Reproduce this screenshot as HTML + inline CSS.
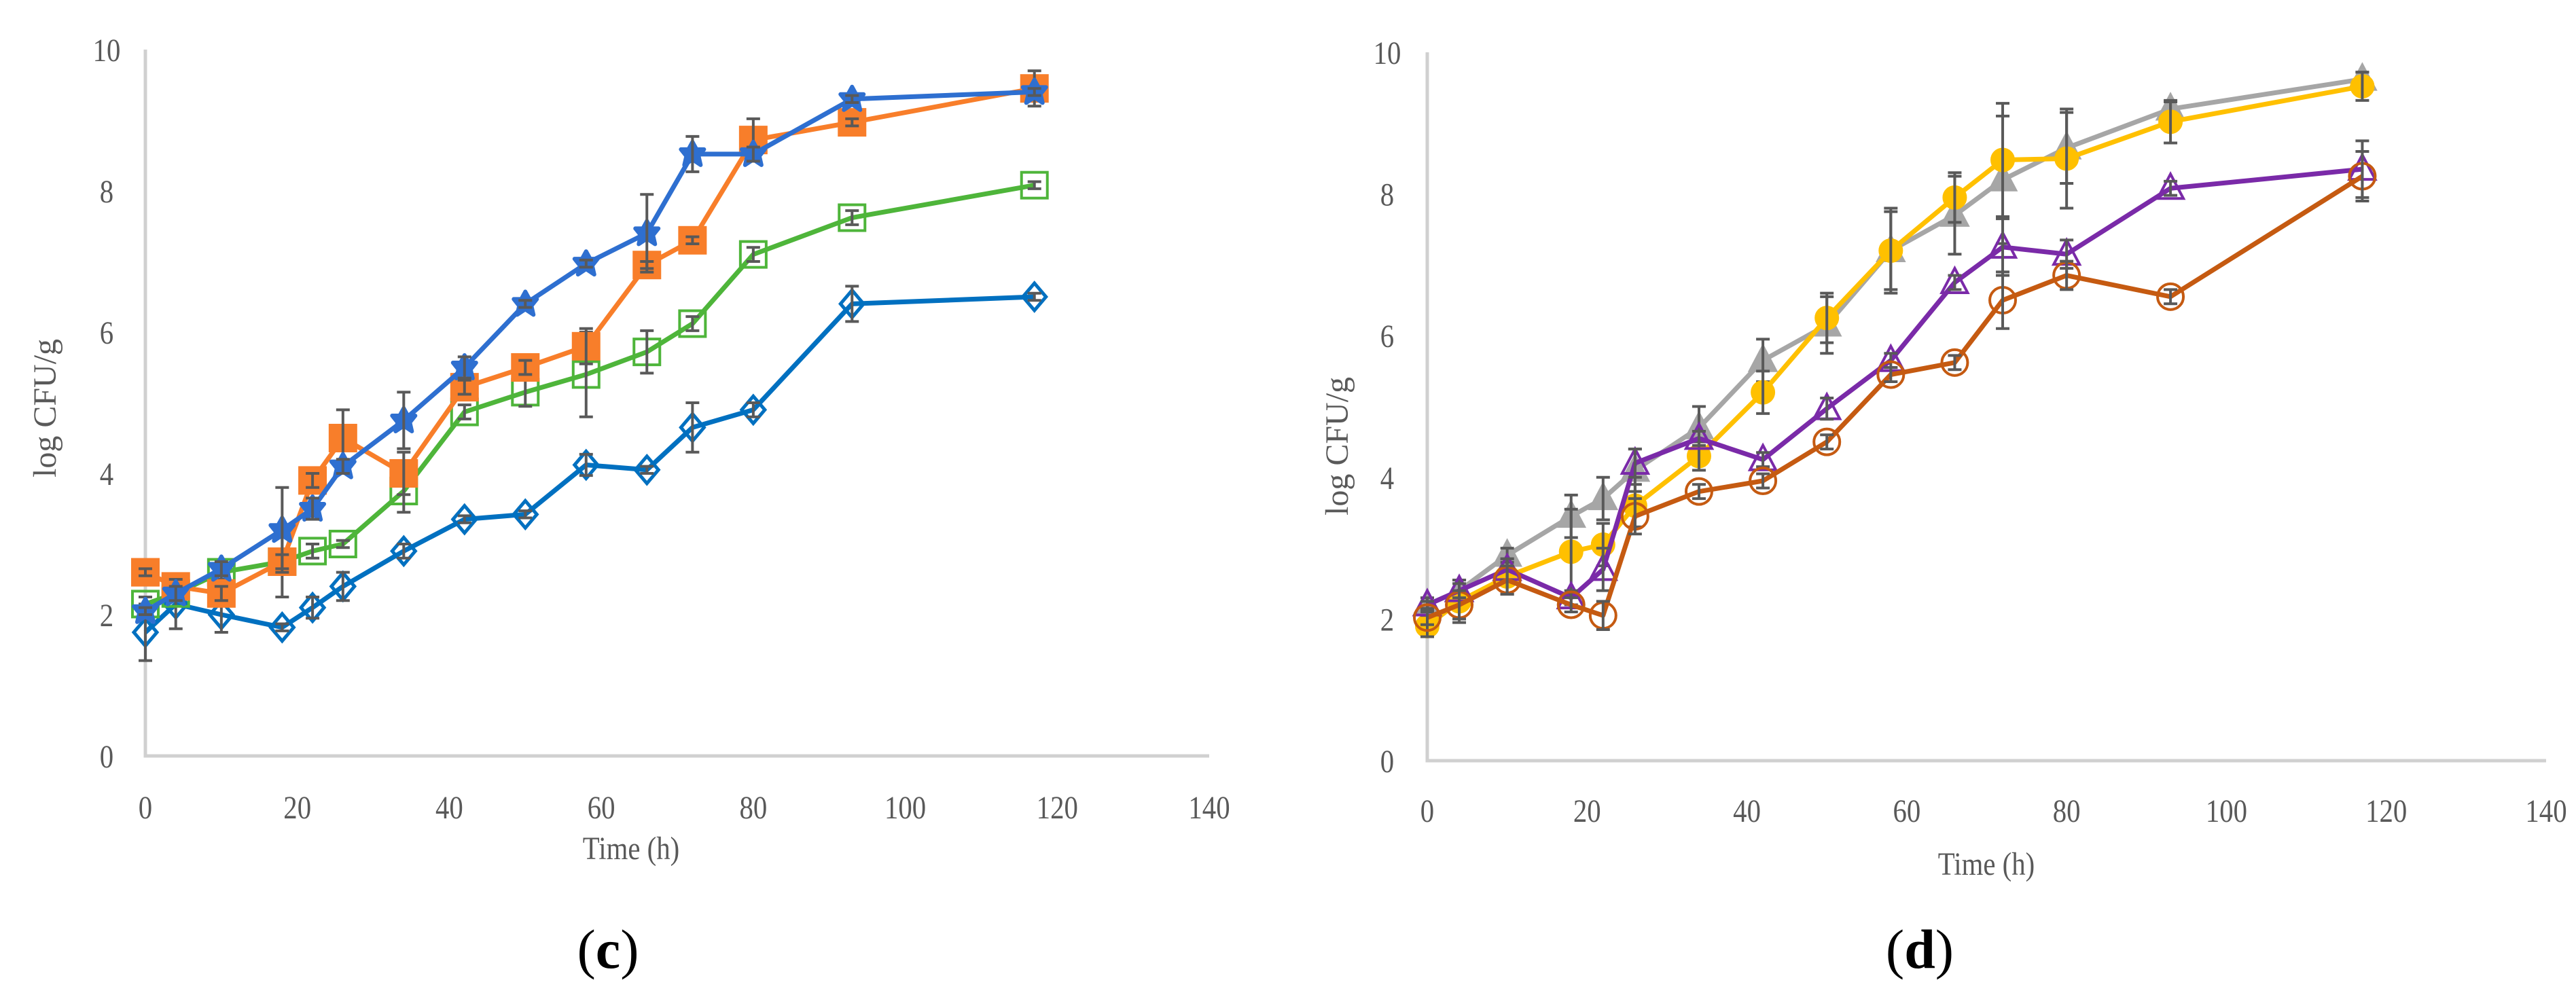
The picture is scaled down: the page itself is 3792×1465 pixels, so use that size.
<!DOCTYPE html>
<html><head><meta charset="utf-8"><style>
html,body{margin:0;padding:0;background:#fff;}
svg{display:block;}
text{font-family:"Liberation Serif",serif;fill:#595959;}
</style></head><body>
<svg id="chart" width="3792" height="1465" viewBox="0 0 3792 1465" xmlns="http://www.w3.org/2000/svg"></svg>
<script>
const times = [0,4,10,18,22,26,34,42,50,58,66,72,80,93,117];
const xTicks = [0,20,40,60,80,100,120,140];
const yTicks = [0,2,4,6,8,10];
// panel c
const cBlueStar = [2.05,2.3,2.65,3.2,3.5,4.1,4.75,5.5,6.4,6.97,7.4,8.52,8.52,9.3,9.4];
const cBlueStarErr = [0.05,0.1,0.1,0.6,0.15,0.1,0.4,0.15,0.05,0.05,0.55,0.25,0.1,0.05,0.05];
const cOrange = [2.6,2.4,2.3,2.75,3.9,4.5,4.0,5.22,5.5,5.8,6.95,7.3,8.72,8.97,9.45];
const cOrangeErr = [0.05,0.1,0.1,0.1,0.1,0.4,0.3,0.1,0.1,0.25,0.05,0.05,0.3,0.05,0.25];
const cGreen = [2.15,2.3,2.6,2.75,2.9,3.0,3.75,4.87,5.15,5.4,5.72,6.12,7.1,7.62,8.08];
const cGreenErr = [0.1,0.1,0.1,0.5,0.1,0.05,0.3,0.1,0.2,0.6,0.3,0.1,0.1,0.1,0.05];
const cDiamond = [1.75,2.15,2.0,1.82,2.1,2.4,2.9,3.35,3.42,4.12,4.05,4.65,4.9,6.4,6.5];
const cDiamondErr = [0.4,0.35,0.25,0.05,0.15,0.2,0.1,0.05,0.05,0.15,0.05,0.35,0.1,0.25,0.05];
// panel d
const dGray = [2.2,2.4,2.9,3.45,3.7,4.1,4.7,5.65,6.15,7.2,7.7,8.2,8.65,9.2,9.62];
const dGrayErr = [0.1,0.15,0.1,0.3,0.3,0.3,0.3,0.3,0.4,0.6,0.55,0.9,0.5,0.1,0.1];
const dYellow = [1.9,2.25,2.6,2.95,3.05,3.6,4.3,5.2,6.25,7.2,7.95,8.48,8.5,9.02,9.52];
const dYellowErr = [0.15,0.3,0.25,0.6,0.3,0.3,0.2,0.3,0.35,0.55,0.35,0.8,0.7,0.3,0.2];
const dPurple = [2.2,2.4,2.7,2.3,2.7,4.2,4.55,4.25,4.97,5.65,6.75,7.25,7.15,8.08,8.35];
const dPurpleErr = [0.05,0.1,0.15,0.1,0.3,0.2,0.1,0.1,0.15,0.1,0.1,0.4,0.2,0.1,0.4];
const dBrown = [2.02,2.2,2.55,2.2,2.05,3.45,3.8,3.95,4.5,5.45,5.62,6.5,6.85,6.55,8.25];
const dBrownErr = [0.1,0.2,0.2,0.1,0.2,0.25,0.1,0.1,0.1,0.1,0.1,0.4,0.2,0.1,0.35];

const NS='http://www.w3.org/2000/svg';
const svg=document.getElementById('chart');
function mk(tag,attrs,parent){const e=document.createElementNS(NS,tag);for(const k in attrs)e.setAttribute(k,attrs[k]);(parent||svg).appendChild(e);return e;}

function panel(p){
  const g=mk('g',{});
  
  
  const X=v=>p.x0+(p.x1-p.x0)*v/140;
  const Y=v=>p.y0-(p.y0-p.y1)*v/10;
  const ax=mk('path',{d:`M${p.x0} ${p.y1} V${p.y0} H${p.x1}`,fill:'none',stroke:'#d0d0d0','stroke-width':5},g);
  
  
  yTicks.forEach(v=>{const t=mk('text',{x:p.ylx,y:Y(v)+17,'text-anchor':'middle','font-size':48,transform:`translate(${p.ylx} 0) scale(0.85 1) translate(${-p.ylx} 0)`},g);t.textContent=v;
    
    });
  xTicks.forEach(v=>{const t=mk('text',{x:X(v),y:p.xly,'text-anchor':'middle','font-size':48,transform:`translate(${X(v)} 0) scale(0.85 1) translate(${-X(v)} 0)`},g);t.textContent=v;
    
    });
  const xt=mk('text',{x:p.xtx,y:p.xty,'text-anchor':'middle','font-size':48,transform:`translate(${p.xtx} 0) scale(0.85 1) translate(${-p.xtx} 0)`},g);xt.textContent='Time (h)';
  
  
  const yt=mk('text',{x:0,y:0,'text-anchor':'middle','font-size':48,transform:`translate(${p.ytx} ${p.yty}) rotate(-90)`},g);yt.textContent='log CFU/g';
  
  
  const lab=mk('text',{x:p.labx,y:p.laby,'text-anchor':'middle','font-size':82,style:'fill:#000'},g);
  lab.appendChild(document.createTextNode('('));
  const b=mk('tspan',{'font-weight':'bold'},lab);b.textContent=p.letter;
  lab.appendChild(document.createTextNode(')'));
  
  
  p.series.forEach(s=>{
    const sg=mk('g',{},g);
    
    
    const pts=s.vals.map((v,i)=>[X(times[i]),Y(v)]);
    const ln=mk('polyline',{points:pts.map(q=>q.join(',')).join(' '),fill:'none',stroke:s.color,'stroke-width':7,'stroke-linejoin':'round'},sg);
    
    
    pts.forEach(([x,y],i)=>{
      let m;
      const fill=s.filled?s.color:'none';
      if(s.shape==='square') m=mk('rect',{x:x-19,y:y-19,width:38,height:38,fill:s.filled?s.color:'none',stroke:s.color,'stroke-width':4},sg);
      else if(s.shape==='diamond') m=mk('path',{d:`M${x} ${y-20}L${x+17} ${y}L${x} ${y+20}L${x-17} ${y}Z`,fill:'none',stroke:s.color,'stroke-width':5},sg);
      else if(s.shape==='circle') m=mk('circle',{cx:x,cy:y,r:s.filled?16:19,fill:fill,stroke:s.color,'stroke-width':4},sg);
      else if(s.shape==='triangle') m=mk('path',{d:`M${x} ${y-21}L${x+19} ${y+15}L${x-19} ${y+15}Z`,fill:fill,stroke:s.color,'stroke-width':4},sg);
      else m=mk('path',{d:`M${x} ${y-18}L${x+6} ${y-7}L${x+17} ${y-7}L${x+9} ${y+3}L${x+12} ${y+16}L${x} ${y+8}L${x-12} ${y+16}L${x-9} ${y+3}L${x-17} ${y-7}L${x-6} ${y-7}Z`,fill:s.color,stroke:s.color,'stroke-width':6,'stroke-linejoin':'round'},sg);
      
      
      const e=s.err[i], yh=Y(s.vals[i]+e), yl=Y(s.vals[i]-e);
      const eb=mk('path',{d:`M${x} ${yh}V${yl}M${x-10} ${yh}H${x+10}M${x-10} ${yl}H${x+10}`,stroke:'#595959','stroke-width':4,fill:'none'},sg);
      
      
    });
  });
}
panel({name:'panel-c',letter:'c',x0:214,x1:1780,y0:1113,y1:73,ylx:157,xly:1205,xtx:929,xty:1265,ytx:82,yty:601,labx:895,laby:1425,
  series:[
   {name:'series-diamond',vals:cDiamond,err:cDiamondErr,color:'#0070C0',shape:'diamond'},
   {name:'series-open-square',vals:cGreen,err:cGreenErr,color:'#4EB53A',shape:'square',filled:false},
   {name:'series-orange-square',vals:cOrange,err:cOrangeErr,color:'#F87E2A',shape:'square',filled:true},
   {name:'series-blue-star',vals:cBlueStar,err:cBlueStarErr,color:'#2E6FD0',shape:'star'}
  ]});
panel({name:'panel-d',letter:'d',x0:2101,x1:3748,y0:1120,y1:77,ylx:2042,xly:1210,xtx:2924,xty:1288,ytx:1984,yty:657,labx:2826,laby:1425,
  series:[
   {name:'series-gray-triangle',vals:dGray,err:dGrayErr,color:'#A6A6A6',shape:'triangle',filled:true},
   {name:'series-yellow-circle',vals:dYellow,err:dYellowErr,color:'#FFC000',shape:'circle',filled:true},
   {name:'series-purple-triangle',vals:dPurple,err:dPurpleErr,color:'#7A2AA8',shape:'triangle',filled:false},
   {name:'series-brown-circle',vals:dBrown,err:dBrownErr,color:'#C55A11',shape:'circle',filled:false}
  ]});
</script>
</body></html>
